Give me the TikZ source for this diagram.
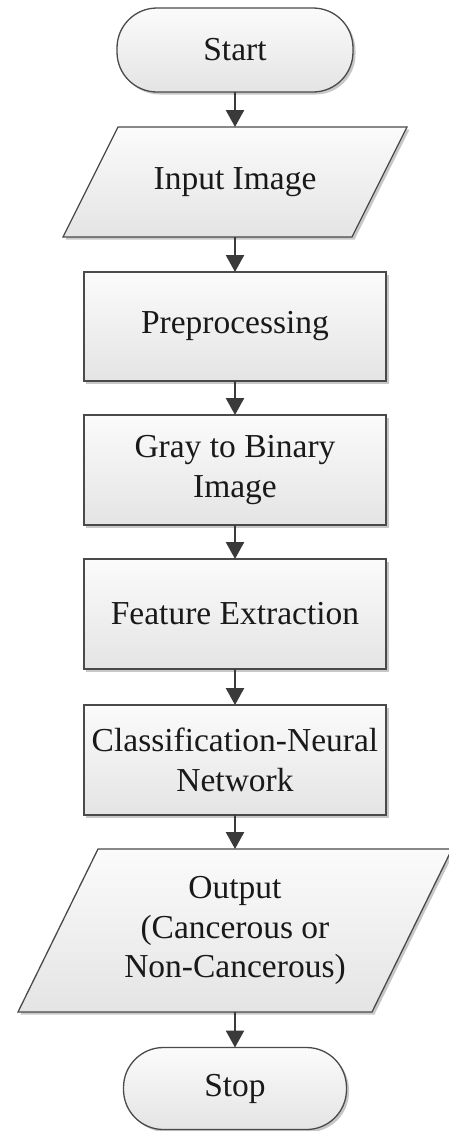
\documentclass[tikz,border=0pt]{standalone}
\usepackage{fontspec}
\setmainfont{Liberation Serif}
\usetikzlibrary{arrows.meta,shadows,backgrounds}
\definecolor{edge}{HTML}{4A4A4A}
\definecolor{arr}{HTML}{3A3A3A}
\definecolor{fillA}{HTML}{FBFBFB}
\definecolor{fillB}{HTML}{E4E4E4}
\begin{document}
\begin{tikzpicture}[x=1bp,y=-1bp,
  every node/.style={font=\fontsize{33.5bp}{39.5bp}\selectfont, align=center, outer sep=0pt, inner sep=0pt, text=black!90},
  shapefill/.style={top color=fillA, bottom color=fillB, draw=edge, line width=1.3bp,
    drop shadow={shadow xshift=2.5bp, shadow yshift=-2.5bp, opacity=0.22, fill=black}},
  procbox/.style={shapefill, rectangle, minimum width=302bp, minimum height=110bp},
  termbox/.style={shapefill, rectangle, rounded corners=40bp},
  iobody/.style={rectangle},
  flow/.style={draw=arr, line width=2.4bp, -{Triangle[width=18bp,length=17bp]}}
]
\useasboundingbox (0,0) rectangle (449,1131);

\node[termbox, minimum width=236bp, minimum height=84bp] (start) at (235,50) {Start};
\node[iobody, minimum width=289bp, minimum height=110bp] (input) at (235,182) {Input Image};
\node[procbox, minimum height=109bp] (pre) at (235,326.5) {Preprocessing};
\node[procbox] (gray) at (235,470) {Gray to Binary\\Image};
\node[procbox] (feat) at (235,614) {Feature Extraction};
\node[procbox] (cls) at (235,760) {Classification-Neural\\Network};
\node[iobody, minimum width=354bp, minimum height=163bp] (output) at (235,930.5) {Output\\(Cancerous or\\Non-Cancerous)};
\node[termbox, minimum width=223bp, minimum height=82bp] (stop) at (235,1088.5) {Stop};

\begin{pgfonlayer}{background}
  \fill[white] (0,0) rectangle (449,1131);
  \path[shapefill] ([xshift=27.5bp]input.north west) -- ([xshift=27.5bp]input.north east)
    -- ([xshift=-27.5bp]input.south east) -- ([xshift=-27.5bp]input.south west) -- cycle;
  \path[shapefill] ([xshift=40bp]output.north west) -- ([xshift=40bp]output.north east)
    -- ([xshift=-40bp]output.south east) -- ([xshift=-40bp]output.south west) -- cycle;
\end{pgfonlayer}

\draw[flow] (start.south) -- (input.north);
\draw[flow] (input.south) -- (pre.north);
\draw[flow] (pre.south) -- (gray.north);
\draw[flow] (gray.south) -- (feat.north);
\draw[flow] (feat.south) -- (cls.north);
\draw[flow] (cls.south) -- (output.north);
\draw[flow] (output.south) -- (stop.north);
\end{tikzpicture}
\end{document}
